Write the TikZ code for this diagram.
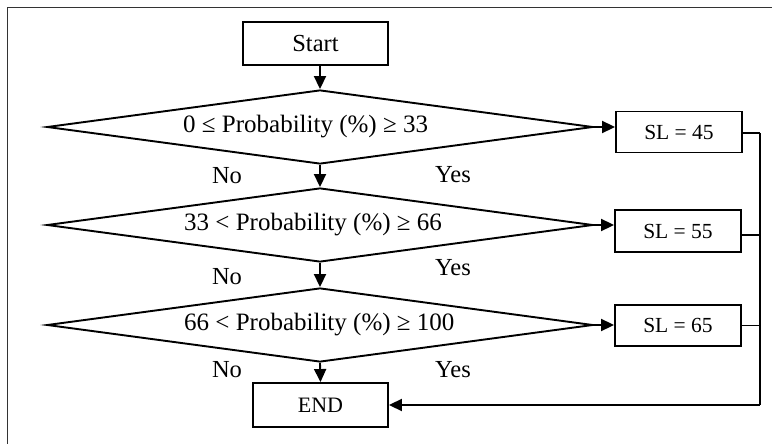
\documentclass[tikz,border=0pt]{standalone}
\usepackage{fontspec}
\setmainfont{Liberation Serif}
\usetikzlibrary{shapes.geometric,arrows.meta}

\begin{document}
\begin{tikzpicture}[x=1pt,y=-1pt,
  every node/.style={inner sep=0pt},
  procbox/.style={draw, line width=1.9pt, rectangle},
  decision/.style={diamond, draw, line width=1.9pt, aspect=7.5,
    minimum width=546pt, minimum height=74pt},
  cond/.style={anchor=west, font=\fontsize{25}{27}\selectfont},
  flow/.style={line width=1.9pt, -{Triangle[length=13pt,width=12pt]}},
  link/.style={line width=1.6pt},
  answer/.style={font=\fontsize{24.5}{26}\selectfont},
  frame/.style={line width=1pt, black!80}]

\useasboundingbox (0,0) rectangle (772,444);

% outer frame (top and left edges)
\coordinate (fl) at (7,444);
\coordinate (fc) at (7,8);
\coordinate (fr) at (772,8);
\draw[frame] (fl) -- (fc) -- (fr);

% start / end terminals
\node[procbox, minimum width=145pt, minimum height=43pt,
      font=\fontsize{24.5}{26}\selectfont] (start) at (315.5,43.5) {Start};
\node[procbox, minimum width=135pt, minimum height=44pt,
      font=\fontsize{22}{24}\selectfont] (end) at (320.5,405) {END};

% decisions and their conditions
\node[decision] (d1) at (320,127) {};
\node[decision] (d2) at (320,225) {};
\node[decision] (d3) at (320,325) {};
\node[cond] (c1) at (183,127) {0 ≤ Probability (\%) ≥ 33};
\node[cond] (c2) at (184,225) {33 < Probability (\%) ≥ 66};
\node[cond] (c3) at (184,325) {66 < Probability (\%) ≥ 100};

% results
\node[procbox, minimum width=126pt, minimum height=41pt,
      font=\fontsize{21.5}{23}\selectfont] (s1) at (679,132) {SL = 45};
\node[procbox, minimum width=126pt, minimum height=42pt,
      font=\fontsize{21.5}{23}\selectfont] (s2) at (678,231) {SL = 55};
\node[procbox, minimum width=126pt, minimum height=41pt,
      font=\fontsize{21.5}{23}\selectfont] (s3) at (678,325.5) {SL = 65};

% branch labels
\node[answer] (no1) at (227,176) {No};
\node[answer] (no2) at (227,277) {No};
\node[answer] (no3) at (227,370) {No};
\node[answer] (yes1) at (453,175) {Yes};
\node[answer] (yes2) at (453,268) {Yes};
\node[answer] (yes3) at (453,370) {Yes};

% main vertical flow
\draw[flow] (d1.north |- start.south) -- (d1.north);
\draw[flow] (d1.south) -- (d2.north);
\draw[flow] (d2.south) -- (d3.north);
\draw[flow] (d3.south) -- (end.north);

% branches to results
\draw[flow] (d1.east) -- (d1.east -| s1.west);
\draw[flow] (d2.east) -- (d2.east -| s2.west);
\draw[flow] (d3.east) -- (d3.east -| s3.west);

% collector back to END
\coordinate (bus) at (760,0);
\draw[link] ([yshift=-1pt]s1.east) -- ([yshift=-1pt]s1.east -| bus);
\draw[link] ([yshift=-4pt]s2.east) -- ([yshift=-4pt]s2.east -| bus);
\draw[link] (s3.east) -- (s3.east -| bus);
\draw[link] ([yshift=-1pt]s1.east -| bus) -- (bus |- end.east);
\draw[flow] (bus |- end.east) -- (end.east);

\end{tikzpicture}
\end{document}
